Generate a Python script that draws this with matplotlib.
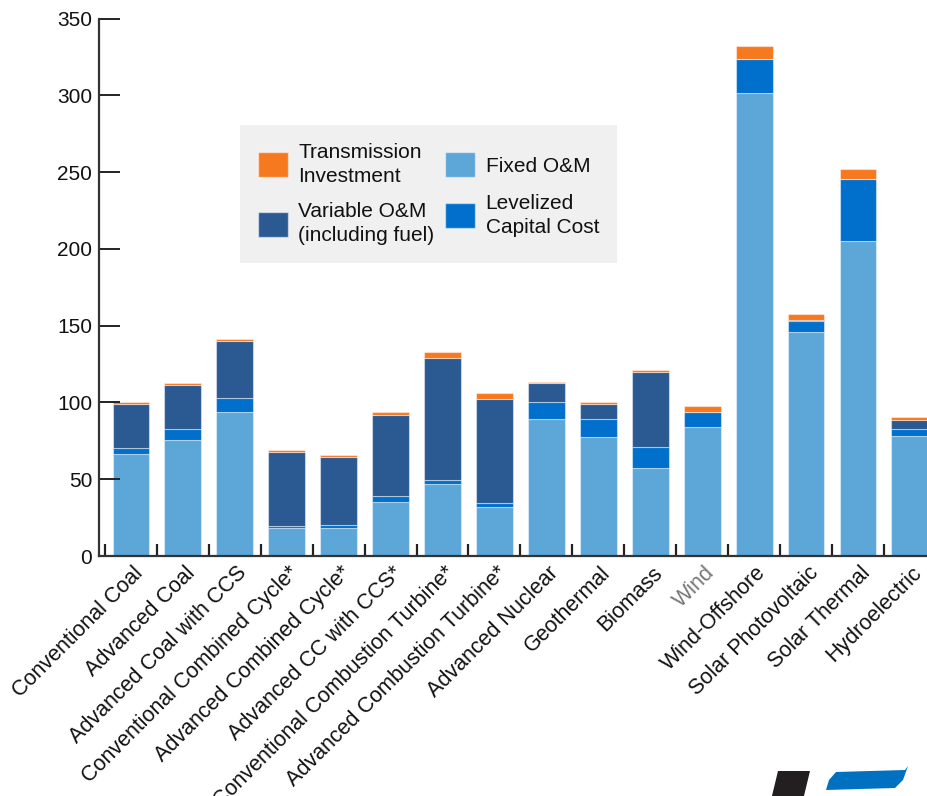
import matplotlib
matplotlib.use("Agg")
import matplotlib.pyplot as plt
from matplotlib.patches import Polygon, Patch
from matplotlib.transforms import ScaledTranslation
import numpy as np

plt.rcParams['font.family'] = ['Liberation Sans', 'DejaVu Sans']

categories = ["Conventional Coal", "Advanced Coal", "Advanced Coal with CCS",
              "Conventional Combined Cycle*", "Advanced Combined Cycle*",
              "Advanced CC with CCS*", "Conventional Combustion Turbine*",
              "Advanced Combustion Turbine*", "Advanced Nuclear", "Geothermal",
              "Biomass", "Wind", "Wind-Offshore", "Solar Photovoltaic",
              "Solar Thermal", "Hydroelectric"]

# stacked from bottom to top, colours as in the legend
fixed_om = [66.4, 75.7, 94.0, 18.0, 18.2, 35.4, 46.7, 32.1, 89.2, 77.3, 57.5, 83.8, 301.4, 145.6, 205.5, 78.3]
levelized_capital = [3.9, 6.8, 9.1, 1.7, 1.8, 3.9, 2.6, 2.4, 11.3, 11.7, 13.5, 10.2, 22.2, 7.6, 39.9, 4.2]
variable_om = [28.9, 29.0, 36.9, 48.2, 44.7, 52.7, 79.8, 67.7, 11.9, 9.8, 48.6, 0.0, 0.3, 0.3, 0.3, 6.0]
transmission = [1.3, 1.3, 1.1, 1.3, 1.3, 1.5, 3.7, 3.9, 1.0, 1.5, 1.3, 3.4, 8.4, 4.4, 6.3, 2.0]

yticks = [0, 50, 100, 150, 200, 250, 300, 350]

c_light = "#5da6d8"
c_mid = "#0070cc"
c_dark = "#2b5a93"
c_orange = "#f7791f"

fig = plt.figure(figsize=(9.27, 7.96), dpi=100)
ax = fig.add_axes([99/927, 1 - 556/796, 1 - 99/927, (556 - 18.7)/796])

x = np.arange(len(categories))
w = 0.71
ekw = dict(edgecolor=(1, 1, 1, 0.45), linewidth=0.8)
b0 = np.zeros(len(x))
ax.bar(x, fixed_om, w, bottom=b0, color=c_light, **ekw)
b1 = b0 + np.array(fixed_om)
ax.bar(x, levelized_capital, w, bottom=b1, color=c_mid, **ekw)
b2 = b1 + np.array(levelized_capital)
ax.bar(x, variable_om, w, bottom=b2, color=c_dark, **ekw)
b3 = b2 + np.array(variable_om)
ax.bar(x, transmission, w, bottom=b3, color=c_orange, **ekw)

ax.set_xlim(-0.615, 15.33)
ax.set_ylim(0, 350)

for s in ['top', 'right']:
    ax.spines[s].set_visible(False)
for s in ['left', 'bottom']:
    ax.spines[s].set_color('#333333')
    ax.spines[s].set_linewidth(1.6)

ax.set_yticks(yticks)
ax.set_yticklabels([str(v) for v in yticks])
ax.tick_params(axis='y', direction='in', length=15, width=1.4, color='#222222',
               labelsize=15, pad=5, labelcolor='#111111')

ax.set_xticks(x)
ax.set_xticks(np.arange(-0.5, len(x) - 0.5, 1.0), minor=True)
ax.tick_params(axis='x', which='major', length=0, pad=10)
ax.tick_params(axis='x', which='minor', direction='in', length=8.5, width=1.6, color='#222222')
ax.set_xticklabels(categories, rotation=45, ha='right', va='center',
                   rotation_mode='anchor', fontsize=15.5, color='#111111')
shift = ScaledTranslation(9/100, 0, fig.dpi_scale_trans)
for lbl in ax.get_xticklabels():
    lbl.set_transform(lbl.get_transform() + shift)
    if lbl.get_text() == "Wind":
        lbl.set_color('#777777')

handles = [Patch(facecolor=c_orange, edgecolor=(1, 1, 1, 0.5)),
           Patch(facecolor=c_dark, edgecolor=(1, 1, 1, 0.5)),
           Patch(facecolor=c_light, edgecolor=(1, 1, 1, 0.5)),
           Patch(facecolor=c_mid, edgecolor=(1, 1, 1, 0.5))]
labels = ["Transmission\nInvestment", "Variable O&M\n(including fuel)",
          "Fixed O&M", "Levelized\nCapital Cost"]
leg = fig.legend(handles, labels, ncol=2, loc='upper left',
                 bbox_to_anchor=(240/927, 1 - 125/796), fontsize=15,
                 frameon=True, fancybox=False, handlelength=1.45, handleheight=1.45,
                 handletextpad=0.5, columnspacing=0.5, labelspacing=0.8,
                 borderpad=0.85, borderaxespad=0)
leg.get_frame().set_facecolor('#f0f0f0')
leg.get_frame().set_edgecolor('none')
leg.get_frame().set_alpha(1)
for t in leg.get_texts():
    t.set_color('#111111')
    t.set_linespacing(1.32)

# partial logo in the lower-right corner
H = 796
fig.patches.append(Polygon([(778/927, 1 - 771/H), (810/927, 1 - 771/H),
                            (803/927, 1 - 800/H), (771/927, 1 - 800/H)],
                           closed=True, transform=fig.transFigure,
                           facecolor='#231f20', edgecolor='none'))
fig.patches.append(Polygon([(836/927, 1 - 772/H), (905/927, 1 - 770/H),
                            (908/927, 1 - 766/H), (903/927, 1 - 780/H),
                            (895/927, 1 - 788/H), (826/927, 1 - 790/H),
                            (829/927, 1 - 780/H)],
                           closed=True, transform=fig.transFigure,
                           facecolor='#0070c0', edgecolor='none'))

fig.savefig("out.png", dpi=100)
